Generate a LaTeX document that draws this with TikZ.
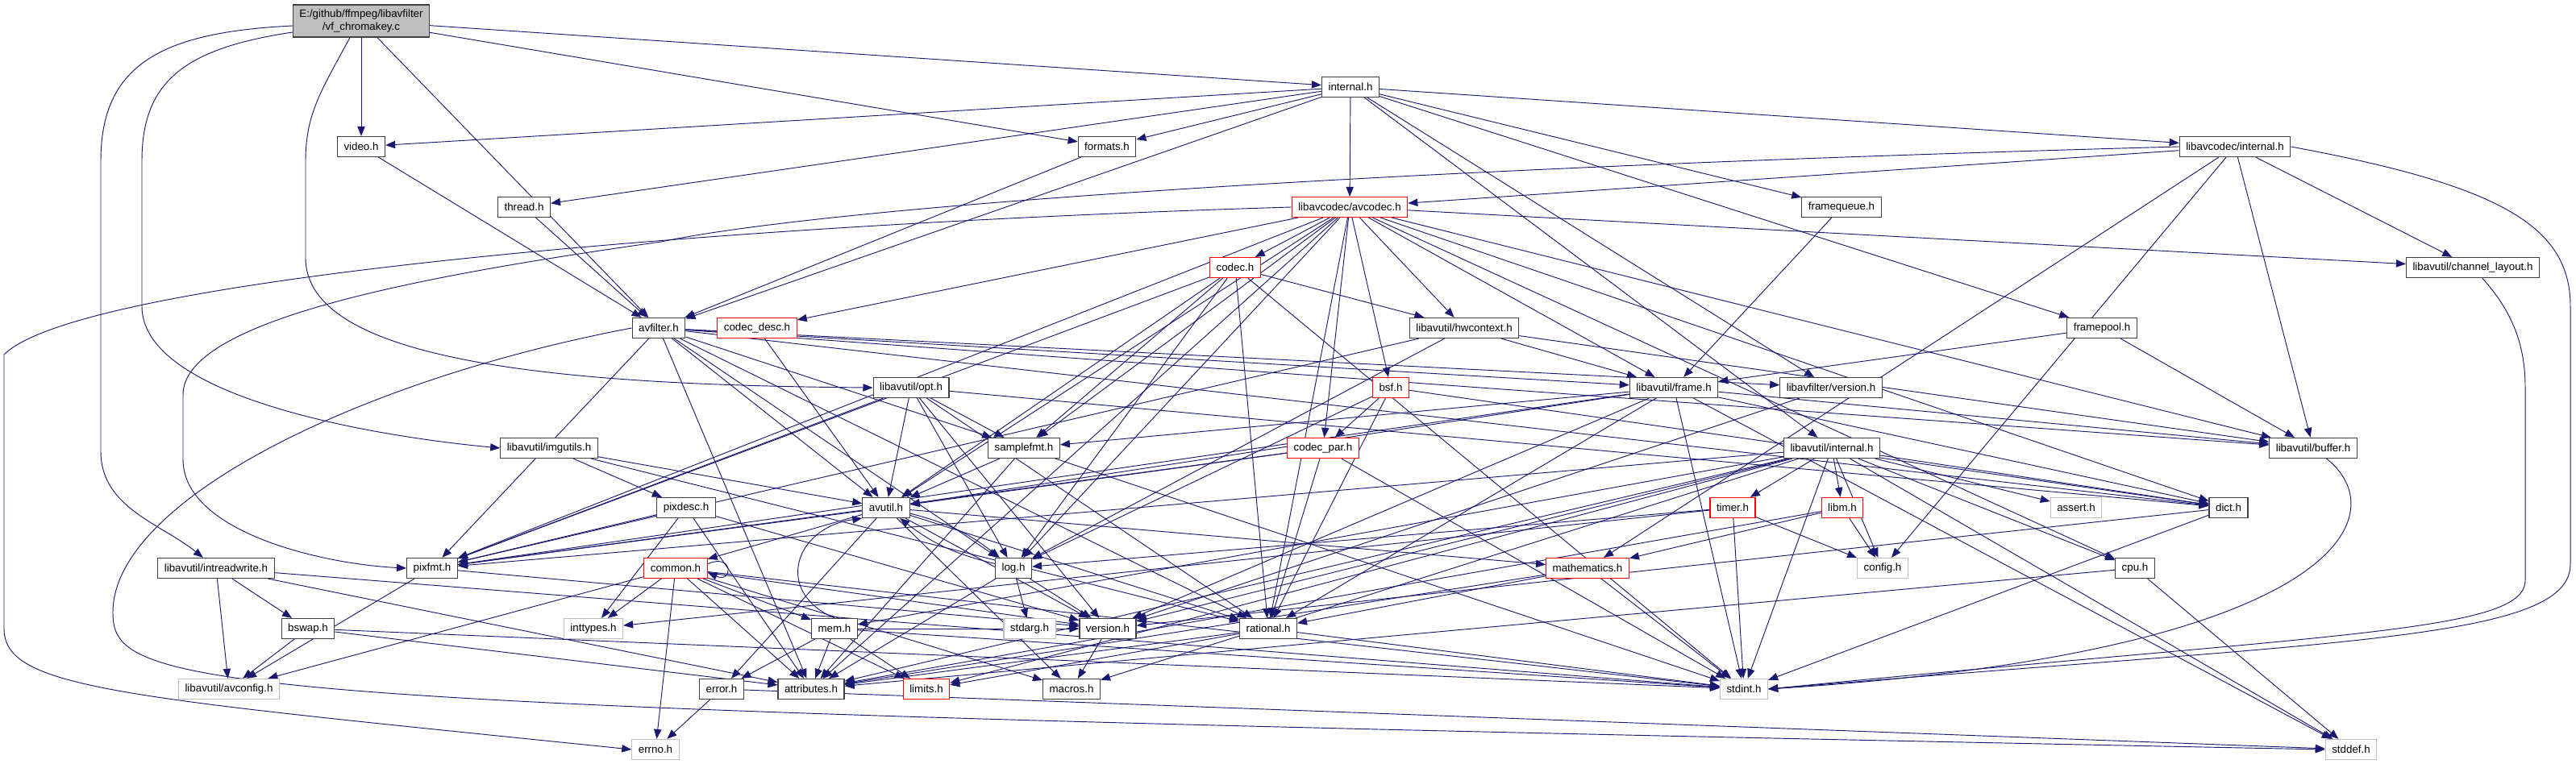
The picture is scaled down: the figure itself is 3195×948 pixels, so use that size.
\documentclass[tikz,border=0pt]{standalone}
\usepackage{fontspec}
\setmainfont{Liberation Sans}
\usetikzlibrary{arrows.meta,backgrounds}
\definecolor{EdgeBlue}{RGB}{25,25,112}
\definecolor{SysGray}{RGB}{191,191,191}
\definecolor{BorderDark}{RGB}{64,64,64}
\definecolor{BorderRed}{RGB}{255,0,0}

\begin{document}
\begin{tikzpicture}[
    x=0.75pt, y=-0.75pt,
    font=\fontsize{10}{12}\selectfont,
    hdr/.style={draw=BorderDark, line width=0.9pt, fill=white, inner xsep=6pt,
                inner ysep=0pt, minimum height=18.75pt},
    trunc/.style={hdr, draw=BorderRed},
    sys/.style={hdr, draw=SysGray},
    rootbox/.style={hdr, fill=SysGray, align=center, minimum height=30pt},
    arr/.style={-{Triangle[length=9pt,width=7pt]}, draw=EdgeBlue, line width=0.7pt}
  ]
  \useasboundingbox (0,0) rectangle (3195,948);
  % top rows
  \node[rootbox] (root) at (448,26) {E:/github/ffmpeg/libavfilter\\/vf\_chromakey.c};
  \node[hdr]   (internal)   at (1675,108) {internal.h};
  \node[hdr]   (video)      at (448,182)  {video.h};
  \node[hdr]   (formats)    at (1373,182) {formats.h};
  \node[hdr]   (lcinternal) at (2772,182) {libavcodec/internal.h};
  \node[hdr]   (thread)     at (650,257)  {thread.h};
  \node[trunc] (avcodec)    at (1674,257) {libavcodec/avcodec.h};
  \node[hdr]   (framequeue) at (2284,257) {framequeue.h};
  \node[trunc] (codec)      at (1532,332) {codec.h};
  \node[hdr]   (chlayout)   at (3067,332) {libavutil/channel\_layout.h};
  % middle rows
  \node[hdr]   (avfilter)   at (817,407)  {avfilter.h};
  \node[trunc] (codecdesc)  at (939,407)  {codec\_desc.h};
  \node[hdr]   (hwctx)      at (1816,407) {libavutil/hwcontext.h};
  \node[hdr]   (framepool)  at (2607,407) {framepool.h};
  \node[hdr]   (opt)        at (1130,481) {libavutil/opt.h};
  \node[trunc] (bsf)        at (1725,481) {bsf.h};
  \node[hdr]   (frame)      at (2076,481) {libavutil/frame.h};
  \node[hdr]   (lfversion)  at (2271,481) {libavfilter/version.h};
  \node[hdr]   (imgutils)   at (681,556)  {libavutil/imgutils.h};
  \node[hdr]   (samplefmt)  at (1270,556) {samplefmt.h};
  \node[trunc] (codecpar)   at (1641,556) {codec\_par.h};
  \node[hdr]   (uinternal)  at (2272,556) {libavutil/internal.h};
  \node[hdr]   (buffer)     at (2869,556) {libavutil/buffer.h};
  \node[hdr]   (pixdesc)    at (851,630)  {pixdesc.h};
  \node[hdr]   (avutil)     at (1099,630) {avutil.h};
  \node[trunc] (timer)      at (2149,630) {timer.h};
  \node[trunc] (libm)       at (2285,630) {libm.h};
  \node[sys]   (assert)     at (2575,630) {assert.h};
  \node[hdr]   (dict)       at (2764,630) {dict.h};
  % lower rows
  \node[hdr]   (intrw)      at (268,705)  {libavutil/intreadwrite.h};
  \node[hdr]   (pixfmt)     at (536,705)  {pixfmt.h};
  \node[trunc] (common)     at (838,705)  {common.h};
  \node[hdr]   (log)        at (1257,705) {log.h};
  \node[trunc] (mathematics) at (1969,705) {mathematics.h};
  \node[sys]   (config)     at (2335,705) {config.h};
  \node[hdr]   (cpu)        at (2648,705) {cpu.h};
  \node[hdr]   (bswap)      at (382,780)  {bswap.h};
  \node[sys]   (inttypes)   at (736,780)  {inttypes.h};
  \node[hdr]   (mem)        at (1035,780) {mem.h};
  \node[sys]   (stdarg)     at (1277,780) {stdarg.h};
  \node[hdr]   (version)    at (1374,780) {version.h};
  \node[hdr]   (rational)   at (1573,780) {rational.h};
  \node[sys]   (avconfig)   at (284,855)  {libavutil/avconfig.h};
  \node[hdr]   (errorh)     at (895,855)  {error.h};
  \node[hdr]   (attributes) at (1006,855) {attributes.h};
  \node[trunc] (limits)     at (1149,855) {limits.h};
  \node[hdr]   (macros)     at (1329,855) {macros.h};
  \node[sys]   (stdint)     at (2163,855) {stdint.h};
  \node[sys]   (errno)      at (813,930)  {errno.h};
  \node[sys]   (stddef)     at (2916,930) {stddef.h};

  \begin{scope}[on background layer]
    % includes of the filter itself
    \foreach \b in {video,formats,internal,avfilter}
      \draw[arr] (root) -- (\b);
    \draw[arr] ([yshift=-4.5pt]root.west) .. controls (200,40) and (125,80) .. (125,200)
      -- (125,560) .. controls (125,630) and (200,650) .. (intrw);
    \draw[arr] ([yshift=-10.5pt]root.west) .. controls (230,60) and (176,100) .. (176,200)
      -- (176,380) .. controls (176,490) and (450,540) .. (imgutils.west);
    \draw[arr] ([xshift=-10.5pt]root.south) .. controls (400,110) and (379,140) .. (379,200)
      -- (379,320) .. controls (379,450) and (700,478) .. (opt.west);
    % libavfilter headers
    \foreach \b in {video,formats,thread,avfilter,avcodec,framequeue,lcinternal,framepool,lfversion,uinternal}
      \draw[arr] (internal) -- (\b);
    \foreach \a in {video,thread,formats}
      \draw[arr] (\a) -- (avfilter);
    \foreach \b in {attributes,avutil,buffer,dict,frame,log,samplefmt,pixfmt,rational,lfversion}
      \draw[arr] (avfilter) -- (\b);
    \draw[arr] (avfilter.west) .. controls (450,470) and (140,620) .. (140,760)
      .. controls (140,860) and (250,878) .. (stddef.west);
    \draw[arr] (framequeue) -- (frame);
    \foreach \b in {buffer,frame}
      \draw[arr] (framepool) -- (\b);
    \draw[arr] (lfversion) -- (version);
    % libavcodec headers
    \foreach \b in {samplefmt,attributes,avutil,buffer,cpu,chlayout,dict,frame,hwctx,log,pixfmt,rational,bsf,codec,codecdesc,codecpar}
      \draw[arr] (avcodec) -- (\b);
    \draw[arr] (avcodec.west) .. controls (900,278) and (100,345) .. (5,440)
      -- (5,780) .. controls (5,855) and (150,865) .. (errno.west);
    \foreach \b in {buffer,chlayout,mathematics,avcodec,config}
      \draw[arr] (lcinternal) -- (\b);
    \draw[arr] (lcinternal.west) .. controls (1600,212) and (1000,262) .. (820,300)
      .. controls (500,345) and (227,400) .. (227,490) -- (227,570)
      .. controls (227,660) and (400,700) .. (pixfmt.west);
    \draw[arr] (lcinternal.east) .. controls (3100,230) and (3188,280) .. (3188,380)
      -- (3188,700) .. controls (3188,795) and (2900,795) .. (stdint.east);
    \foreach \b in {stdint,avutil,hwctx,log,pixfmt,rational,samplefmt}
      \draw[arr] (codec) -- (\b);
    \draw[arr] (codecdesc) -- (avutil);
    \foreach \b in {stdint,avutil,rational,pixfmt}
      \draw[arr] (codecpar) -- (\b);
    \foreach \b in {dict,log,rational,codecpar}
      \draw[arr] (bsf) -- (\b);
    % libavutil headers
    \foreach \b in {buffer,frame,log,pixfmt}
      \draw[arr] (hwctx) -- (\b);
    \foreach \b in {stddef,stdint,avutil,buffer,dict,rational,samplefmt,pixfmt,version}
      \draw[arr] (frame) -- (\b);
    \foreach \b in {rational,avutil,dict,log,pixfmt,samplefmt,version}
      \draw[arr] (opt) -- (\b);
    \foreach \b in {avutil,pixdesc,rational}
      \draw[arr] (imgutils) -- (\b);
    \foreach \b in {inttypes,attributes,pixfmt,version}
      \draw[arr] (pixdesc) -- (\b);
    \foreach \b in {stdint,avutil,attributes}
      \draw[arr] (samplefmt) -- (\b);
    \foreach \b in {common,errorh,rational,version,macros,mathematics,pixfmt}
      \draw[arr] (avutil) -- (\b);
    \draw[arr] (avutil) to[bend left=12] (log);
    \draw[arr] (log) to[bend left=12] (avutil);
    \foreach \b in {stdarg,attributes,version}
      \draw[arr] (log) -- (\b);
    \foreach \b in {errno,inttypes,limits,stdint,attributes,macros,version,avconfig,mem}
      \draw[arr] (common) -- (\b);
    \draw[arr] ([yshift=4pt]common.east) .. controls +(32,-14) and +(32,14) .. ([yshift=-4pt]common.east);
    \foreach \b in {limits,stdint,attributes,errorh,version}
      \draw[arr] (mem) -- (\b);
    \draw[arr] (mem.north) .. controls (960,735) and (985,655) .. (avutil.south west);
    \foreach \b in {errno,stddef}
      \draw[arr] (errorh) -- (\b);
    \foreach \b in {stdint,limits,attributes}
      \draw[arr] (rational) -- (\b);
    \draw[arr] (version) -- (macros);
    \foreach \b in {stdint,attributes,rational}
      \draw[arr] (mathematics) -- (\b);
    \foreach \b in {limits,stdint,stddef,assert,config,attributes,timer,cpu,dict,macros,mem,pixfmt,version,libm}
      \draw[arr] (uinternal) -- (\b);
    \foreach \b in {config,stdint,log,inttypes}
      \draw[arr] (timer) -- (\b);
    \foreach \b in {config,attributes,mathematics}
      \draw[arr] (libm) -- (\b);
    \foreach \b in {stdint,version}
      \draw[arr] (dict) -- (\b);
    \draw[arr] (buffer) .. controls (2975,640) and (2900,810) .. (stdint.east);
    \foreach \b in {stddef,attributes}
      \draw[arr] (cpu) -- (\b);
    \draw[arr] (chlayout) .. controls (3110,380) and (3132,420) .. (3132,480)
      -- (3132,720) .. controls (3132,785) and (2900,785) .. (stdint.east);
    \foreach \b in {stdint,avconfig,attributes,bswap}
      \draw[arr] (intrw) -- (\b);
    \foreach \b in {stdint,avconfig,attributes}
      \draw[arr] (bswap) -- (\b);
    \foreach \b in {avconfig,version}
      \draw[arr] (pixfmt) -- (\b);
  \end{scope}
\end{tikzpicture}
\end{document}
